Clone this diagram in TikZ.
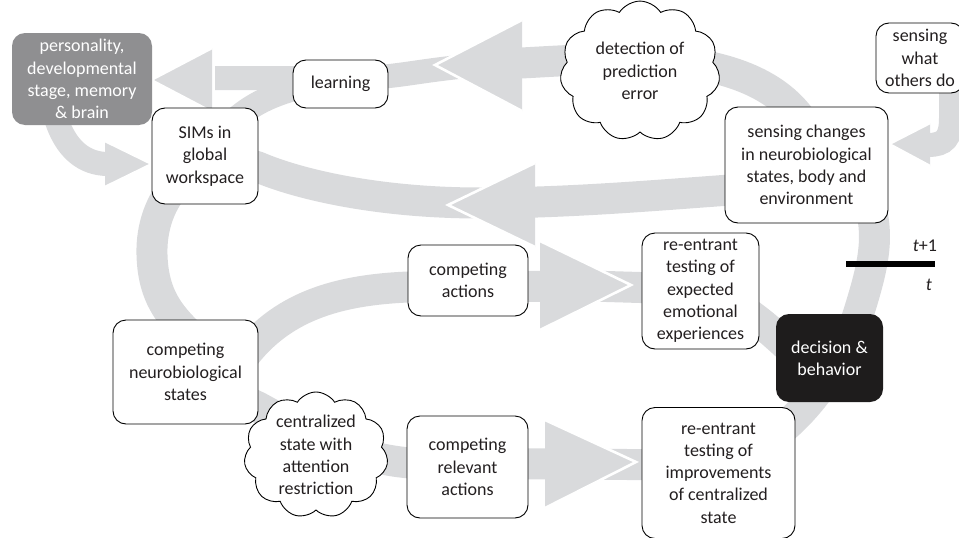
\documentclass[tikz,border=0pt]{standalone}
\usepackage{fontspec}
\setmainfont{Carlito}
\usetikzlibrary{shapes.symbols}
\definecolor{bandgray}{RGB}{217,218,220}
\definecolor{persgray}{RGB}{143,143,145}
\definecolor{nearblack}{RGB}{30,28,28}
\definecolor{txt}{RGB}{35,31,32}
\tikzset{
  bandw/.style={draw=bandgray, line width=31pt},
  bandn/.style={draw=bandgray, line width=24pt},
  headfill/.style={fill=bandgray},
  headedge/.style={draw=white, line width=2.6pt, line join=miter},
  box/.style={rectangle, rounded corners=13pt, draw=black, line width=0.9pt, fill=white,
    align=center, inner sep=0pt, text=txt, font=\fontsize{18pt}{22.3pt}\selectfont},
  cloudbox/.style={cloud, cloud puffs=11, cloud puff arc=115, draw=black, line width=0.9pt,
    fill=white, align=center, inner sep=0pt, text=txt, font=\fontsize{18pt}{22.3pt}\selectfont},
  lbl/.style={inner sep=0pt, text=txt, font=\fontsize{18pt}{22.3pt}\selectfont}
}
\begin{document}
\begin{tikzpicture}[x=1pt,y=-1pt]
\useasboundingbox (0,0) rectangle (959,538);
\clip (0,0) rectangle (959,538);

% ---------- gray bands ----------
% lower ring: sensing changes -> SIMs -> neurobiological -> relevant actions -> improvements
\draw[bandw] (760,188) .. controls (680,193) and (580,203) .. (480,203)
  .. controls (380,203) and (300,185) .. (258,167)
  .. controls (190,145) and (150,200) .. (152,255)
  .. controls (153,290) and (165,310) .. (185,330)
  .. controls (210,370) and (230,395) .. (258,407)
  .. controls (300,430) and (350,458) .. (410,463) -- (700,465);
% right arc: improvements -> decision -> sensing changes
\draw[bandw] (740,455) .. controls (790,435) and (835,380) .. (858,315)
  .. controls (872,270) and (880,240) .. (870,205);
% middle: neurobiological -> competing actions -> expected -> decision
\draw[bandw] (240,362) .. controls (280,305) and (340,290) .. (408,287) -- (590,286)
  -- (690,289) .. controls (730,296) and (755,315) .. (800,358);
% upper ring: sensing changes -> detection -> learning
\draw[bandw] (805,125) .. controls (780,85) and (730,65) .. (660,60)
  .. controls (600,57) and (550,62) .. (500,64);
\draw[bandn] (480,65) .. controls (420,70) and (400,77) .. (360,78) -- (215,78);
% SIMs -> learning
\draw[bandn] (215,140) .. controls (240,110) and (265,95) .. (310,85);
% personality -> SIMs
\draw[bandn] (55,115) .. controls (65,150) and (85,164) .. (108,164);
% sensing what others do -> sensing changes
\draw[bandn] (951,85) -- (951,118) .. controls (951,138) and (945,145) .. (928,145);

% ---------- arrowheads ----------
\coordinate (h1a) at (522,20);  \coordinate (h1t) at (435,65);  \coordinate (h1b) at (522,111);
\coordinate (h2a) at (212,48);  \coordinate (h2t) at (151,80);  \coordinate (h2b) at (212,112);
\coordinate (h3a) at (105,141); \coordinate (h3t) at (152,164); \coordinate (h3b) at (105,187);
\coordinate (h4a) at (545,420); \coordinate (h4t) at (636,462); \coordinate (h4b) at (545,508);
\coordinate (h5a) at (540,241); \coordinate (h5t) at (631,285); \coordinate (h5b) at (540,330);
\coordinate (h6a) at (535,163); \coordinate (h6t) at (448,205); \coordinate (h6b) at (535,247);
\coordinate (h7a) at (930,123); \coordinate (h7t) at (889,144); \coordinate (h7b) at (930,166);
\foreach \h in {h1,h2,h3,h4,h5,h6,h7}{
  \fill[headfill] (\h a) -- (\h t) -- (\h b) -- cycle;
  \draw[headedge] (\h a) -- (\h t) -- (\h b);
}

% ---------- nodes ----------
\node[box, fill=persgray, draw=none, text=white, minimum width=140pt, minimum height=92pt]
  (pers) at (82,79) {personality,\\developmental\\stage, memory\\\& brain};
\node[box, minimum width=95pt, minimum height=48pt] (learn) at (340.5,84) {learning};
\node[box, minimum width=106pt, minimum height=96pt] (sims) at (205,156) {SIMs in\\global\\workspace};
\node[box, minimum width=88pt, minimum height=70pt] (others) at (920,58) {sensing\\what\\others do};
\node[box, minimum width=163pt, minimum height=116pt] (senschg) at (806.5,165)
  {sensing changes\\in neurobiological\\states, body and\\environment};
\node[box, minimum width=120pt, minimum height=71pt] (compact) at (468,280.5) {competing\\actions};
\node[box, minimum width=117pt, minimum height=116pt] (expected) at (700.5,291)
  {re-entrant\\testing of\\expected\\emotional\\experiences};
\node[box, fill=nearblack, draw=none, text=white, minimum width=107pt, minimum height=88pt]
  (decision) at (829.5,358) {decision \&\\behavior};
\node[box, minimum width=145pt, minimum height=104pt] (neuro) at (185.5,372)
  {competing\\neurobiological\\states};
\node[box, minimum width=121pt, minimum height=102pt] (relevant) at (467.5,467)
  {competing\\relevant\\actions};
\node[box, minimum width=153pt, minimum height=131pt] (improv) at (718.5,473)
  {re-entrant\\testing of\\improvements\\of centralized\\state};
\node[cloudbox, minimum width=160pt, minimum height=133pt] (detect) at (640,71)
  {detection of\\prediction\\error};
\node[cloudbox, minimum width=144pt, minimum height=126pt] (central) at (316,455)
  {centralized\\state with\\attention\\restriction};

% ---------- time marker ----------
\node[fill=black, minimum width=89pt, minimum height=6pt, inner sep=0pt] (bar) at (890.5,264) {};
\node[lbl] (tplus) at (925,246) {\textit{t}+1};
\node[lbl] (tnow) at (929,285) {\textit{t}};
\end{tikzpicture}
\end{document}
